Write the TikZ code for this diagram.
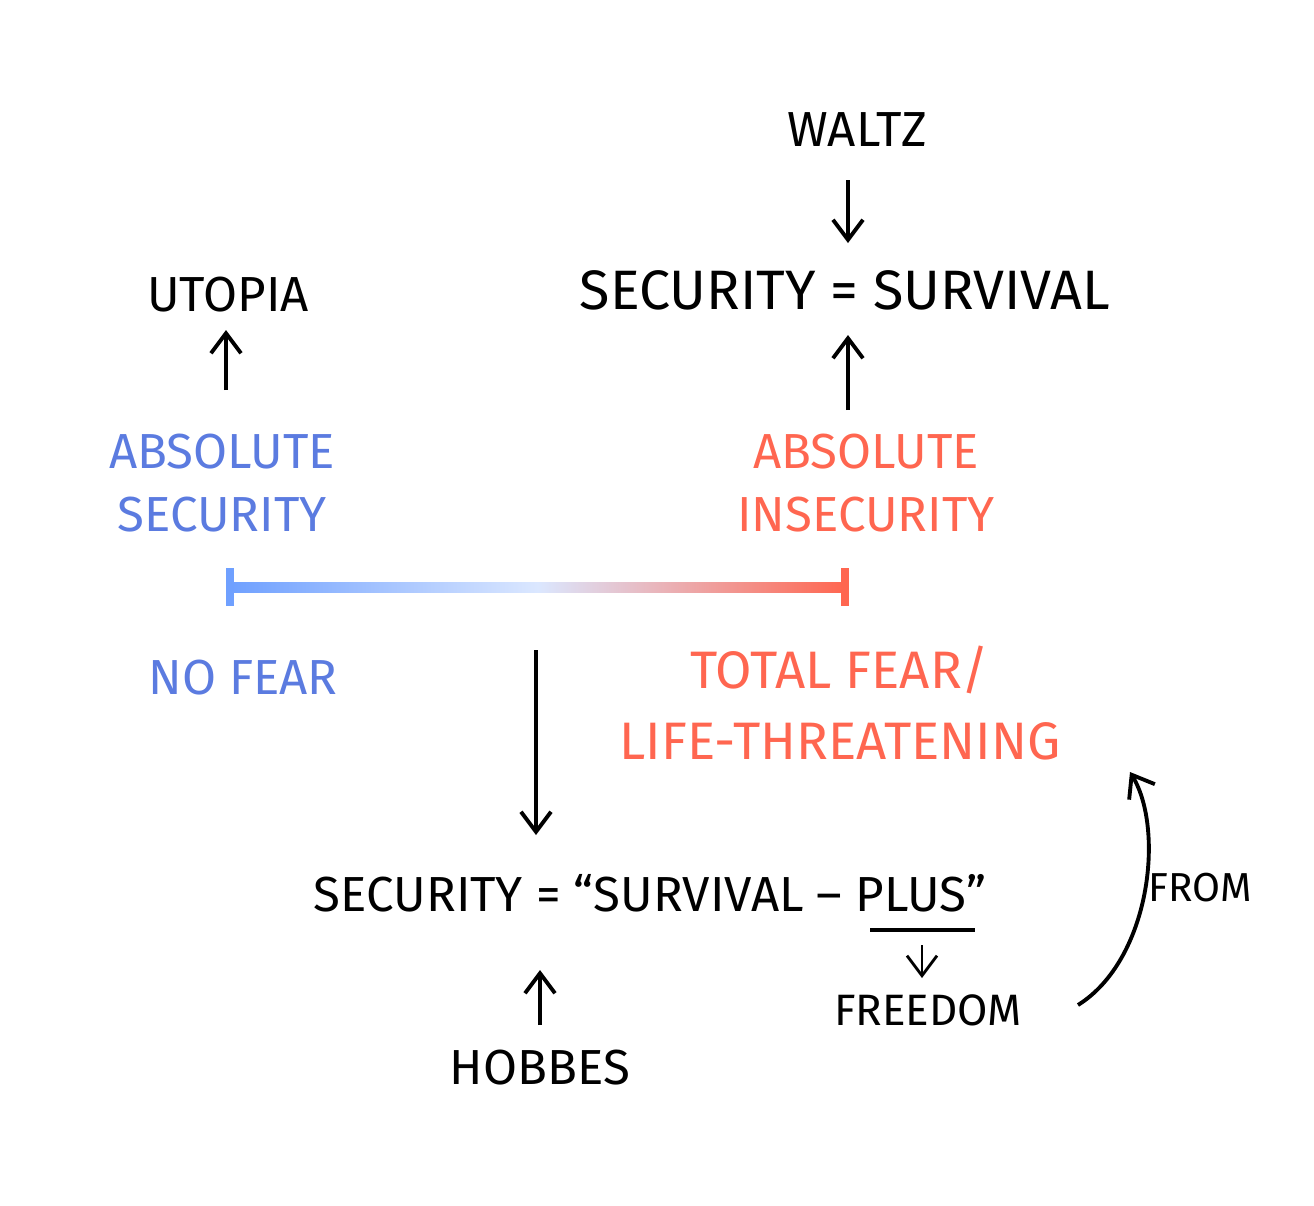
\documentclass[tikz,border=0pt]{standalone}
\usepackage{fontspec}
\setmainfont{Fira Sans}
\usetikzlibrary{arrows.meta}
\definecolor{penblue}{HTML}{5B7BE0}
\definecolor{barblue}{HTML}{6FA0FF}
\definecolor{penred}{HTML}{FF6650}
\tikzset{
  hand/.style={font=\fontsize{14}{18}\selectfont, align=center, inner sep=1pt},
  pen/.style={line width=1.1pt, -{Straight Barb[length=2mm,width=3mm]}}
}
\begin{document}
\begin{tikzpicture}[x=0.01cm,y=-0.01cm]
  \useasboundingbox[fill=white] (0,0) rectangle (1314,1205);
  \draw
    (857,130) node[hand] (waltz){WALTZ}
    (845,290) node[hand,font=\fontsize{15.8}{18}\selectfont] (survival){SECURITY = SURVIVAL}
    (228,295) node[hand] (utopia){UTOPIA}
    (222,483) node[hand,text=penblue] (abssec){ABSOLUTE\\SECURITY}
    (866,483) node[hand,text=penred] (absinsec){ABSOLUTE\\INSECURITY}
    (243,678) node[hand,text=penblue] (nofear){NO FEAR}
    (840,703) node[hand,text=penred,font=\fontsize{15}{20}\selectfont] (totalfear){TOTAL FEAR/\\LIFE-THREATENING}
    (650,893) node[hand] (plus){SECURITY = ``SURVIVAL -- PLUS''}
    (928,1010) node[hand,font=\fontsize{12.5}{15}\selectfont] (freedom){FREEDOM}
    (540,1068) node[hand] (hobbes){HOBBES}
    (1200,888) node[hand,font=\fontsize{11.5}{14}\selectfont] (from){FROM};
  % the scale
  \coordinate (left) at (230,587);
  \coordinate (right) at (845,587);
  \shade[left color=barblue, right color=penred, middle color=barblue!25] (230,582) rectangle (845,592);
  \draw[barblue, line width=2pt] (230,568) -- (230,606);
  \draw[penred, line width=2pt] (845,568) -- (845,606);
  % arrow ends
  \coordinate (w1) at (848,180);
  \coordinate (w2) at (848,243);
  \coordinate (a1) at (848,410);
  \coordinate (a2) at (848,335);
  \coordinate (u1) at (226,390);
  \coordinate (u2) at (226,330);
  \coordinate (mid) at (536,650);
  \coordinate (m2) at (536,835);
  \coordinate (h1) at (540,1025);
  \coordinate (h2) at (540,970);
  \coordinate (p1) at (922,945);
  \coordinate (p2) at (922,978);
  \coordinate (f1) at (1078,1005);
  \coordinate (f2) at (1130,772);
  \coordinate (plusl) at (870,930);
  \coordinate (plusr) at (975,930);
  \begin{scope}[pen]
    \draw (w1) -- (w2);
    \draw (a1) -- (a2);
    \draw (u1) -- (u2);
    \draw (mid) -- (m2);
    \draw (h1) -- (h2);
    \draw[line width=0.8pt] (p1) -- (p2);
    \draw (f1) .. controls (1150,960) and (1165,830) .. (f2);
  \end{scope}
  \draw[line width=1.1pt] (plusl) -- (plusr);
\end{tikzpicture}
\end{document}
